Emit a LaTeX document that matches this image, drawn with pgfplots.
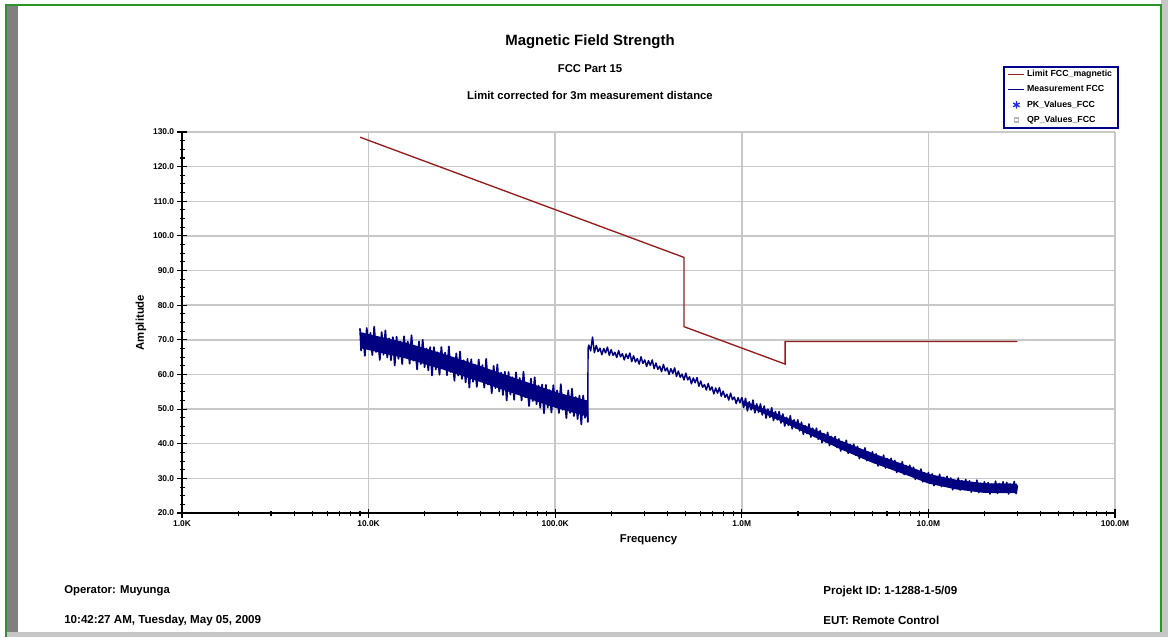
\documentclass[border=0pt]{standalone}
\usepackage{fontspec}
\setmainfont{Liberation Sans}
\usepackage{pgfplots}
\pgfplotsset{compat=1.18}
\definecolor{limred}{RGB}{150,28,28}
\definecolor{meas}{RGB}{0,0,128}
\definecolor{gridc}{RGB}{200,200,200}
\definecolor{legb}{RGB}{0,0,140}
\definecolor{pkblue}{RGB}{30,40,230}
\definecolor{frameg}{RGB}{40,150,40}
\begin{document}
\begin{tikzpicture}
\begin{scope}[x=0.75pt,y=-0.75pt]
\path[use as bounding box] (0,0) rectangle (1168,637);
\fill[white] (0,0) rectangle (1168,637);
\fill[gray!100] (6,5) rectangle (18,632);
\fill[gray!45] (6,632) rectangle (1168,637);
\fill[gray!45] (1161,0) rectangle (1168,637);
\draw[frameg,line width=1pt] (6,637) -- (6,5) -- (1161,5) -- (1161,632);
\node[font=\bfseries\fontsize{11.2}{13}\selectfont] at (590,42) {Magnetic Field Strength};
\node[font=\bfseries\fontsize{8.5}{10}\selectfont] at (590,69) {FCC Part 15};
\node[font=\bfseries\fontsize{8.5}{10}\selectfont] at (590,95) {Limit corrected for 3m measurement distance};
\node[font=\bfseries\fontsize{8.5}{10}\selectfont,anchor=west,inner sep=0pt] at (64,591) {Operator: Muyunga};
\node[font=\bfseries\fontsize{8.7}{10}\selectfont,anchor=west,inner sep=0pt] at (64,620) {10:42:27 AM, Tuesday, May 05, 2009};
\node[font=\bfseries\fontsize{8.7}{10}\selectfont,anchor=west,inner sep=0pt] at (823,591) {Projekt ID: 1-1288-1-5/09};
\node[font=\bfseries\fontsize{8.7}{10}\selectfont,anchor=west,inner sep=0pt] at (823,620) {EUT: Remote Control};
\end{scope}
\begin{axis}[
  at={(136.5pt,-384.75pt)}, anchor=south west,
  scale only axis, width=699.75pt, height=285.75pt,
  xmin=3, xmax=8, ymin=20, ymax=130,
  axis x line=bottom, axis y line=left,
  axis line style={-, black, line width=1.1pt},
  xtick={3,4,5,6,7,8},
  xticklabels={1.0K,10.0K,100.0K,1.0M,10.0M,100.0M},
  minor xtick={3.301,3.477,3.602,3.699,3.778,3.845,3.903,3.954,
               4.301,4.477,4.602,4.699,4.778,4.845,4.903,4.954,
               5.301,5.477,5.602,5.699,5.778,5.845,5.903,5.954,
               6.301,6.477,6.602,6.699,6.778,6.845,6.903,6.954,
               7.301,7.477,7.602,7.699,7.778,7.845,7.903,7.954},
  ytick={20,30,40,50,60,70,80,90,100,110,120,130},
  yticklabels={20.0,30.0,40.0,50.0,60.0,70.0,80.0,90.0,100.0,110.0,120.0,130.0},
  minor y tick num=3,
  tick align=center,
  major tick length=6.75pt, minor tick length=3.75pt,
  every tick/.style={black, line width=0.8pt},
  xmajorgrids, ymajorgrids,
  major grid style={gridc, line width=1.1pt},
  ticklabel style={font=\bfseries\fontsize{6.3}{7}\selectfont},
  xticklabel style={yshift=1pt},
  yticklabel style={xshift=1pt},
  xlabel={Frequency}, ylabel={Amplitude},
  label style={font=\bfseries\fontsize{8.5}{10}\selectfont},
  xlabel style={at={(axis description cs:0.5,-0.071)}, anchor=center},
  ylabel style={at={(axis description cs:-0.044,0.5)}, anchor=center},
  clip=false,
  legend style={at={(axis description cs:1.0043,1.173)}, anchor=north east,
    draw=legb, line width=1.3pt, font=\bfseries\fontsize{6.6}{7.5}\selectfont,
    inner xsep=3pt, inner ysep=1.2pt, row sep=2.1pt,
    nodes={inner sep=1.5pt}},
  legend cell align=left,
  legend image code/.code={\draw[mark repeat=2,mark phase=2,#1] plot coordinates {(0cm,0cm) (0.21cm,0cm) (0.42cm,0cm)};},
  legend image post style={line width=1pt},
]
\addplot[limred, line width=1pt] coordinates {
(3.954,128.5) (5.690,93.8) (5.690,73.8) (6.232,63.0) (6.232,69.5) (7.477,69.5)};
\addlegendentry{Limit FCC\_magnetic}
\addplot[meas, line width=1.3pt, line join=round] table[row sep=\\] {
x y\\
3.954 73.3\\ 3.96 66.9\\ 3.97 71.9\\ 3.98 65.4\\ 3.99 73.4\\ 4.00 67.6\\ 4.01 72.0\\ 4.02 65.6\\ 4.03 73.8\\ 4.04 66.5\\
4.05 70.3\\ 4.06 64.2\\ 4.07 72.2\\ 4.08 65.7\\ 4.09 72.7\\ 4.10 64.9\\ 4.11 70.4\\ 4.12 64.1\\ 4.13 70.8\\ 4.14 62.6\\
4.15 70.9\\ 4.16 64.5\\ 4.17 69.5\\ 4.18 63.0\\ 4.19 71.0\\ 4.20 65.2\\ 4.21 69.5\\ 4.22 63.1\\ 4.23 71.3\\ 4.24 64.0\\
4.25 67.7\\ 4.26 61.5\\ 4.27 69.5\\ 4.28 63.0\\ 4.29 70.0\\ 4.30 62.1\\ 4.31 67.5\\ 4.32 61.2\\ 4.33 67.9\\ 4.34 59.7\\
4.35 67.9\\ 4.36 61.4\\ 4.37 66.4\\ 4.38 59.9\\ 4.39 67.9\\ 4.40 62.0\\ 4.41 66.3\\ 4.42 59.8\\ 4.43 68.1\\ 4.44 60.7\\
4.45 64.4\\ 4.46 58.2\\ 4.47 66.1\\ 4.48 59.7\\ 4.49 66.6\\ 4.50 58.7\\ 4.51 64.1\\ 4.52 57.7\\ 4.53 64.5\\ 4.54 56.2\\
4.55 64.4\\ 4.56 57.9\\ 4.57 62.8\\ 4.58 56.4\\ 4.59 64.3\\ 4.60 58.4\\ 4.61 62.7\\ 4.62 56.2\\ 4.63 64.5\\ 4.64 57.1\\
4.65 60.8\\ 4.66 54.6\\ 4.67 62.5\\ 4.68 56.0\\ 4.69 62.9\\ 4.70 55.1\\ 4.71 60.5\\ 4.72 54.1\\ 4.73 60.8\\ 4.74 52.5\\
4.75 60.7\\ 4.76 54.2\\ 4.77 59.2\\ 4.78 52.7\\ 4.79 60.6\\ 4.80 54.7\\ 4.81 59.0\\ 4.82 52.5\\ 4.83 60.8\\ 4.84 53.4\\
4.85 57.1\\ 4.86 50.9\\ 4.87 58.8\\ 4.88 52.3\\ 4.89 59.2\\ 4.90 51.4\\ 4.91 56.8\\ 4.92 50.4\\ 4.93 57.1\\ 4.94 48.8\\
4.95 57.0\\ 4.96 50.5\\ 4.97 55.5\\ 4.98 49.0\\ 4.99 56.9\\ 5.00 51.0\\ 5.01 55.4\\ 5.02 48.9\\ 5.03 57.2\\ 5.04 49.8\\
5.05 53.6\\ 5.06 47.4\\ 5.07 55.4\\ 5.08 48.9\\ 5.09 55.9\\ 5.10 48.0\\ 5.11 53.5\\ 5.12 47.1\\ 5.13 53.9\\ 5.14 45.6\\
5.15 53.9\\ 5.16 47.5\\ 5.17 52.4\\ 5.175 46.2\\
};
\addlegendentry{Measurement FCC}
% solid core of the noisy band (upper edge, then lower edge back)
\addplot[fill=meas, draw=none, forget plot] coordinates {
(3.956,72.2) (4.2,69.2) (4.4,66.0) (4.6,62.4) (4.8,58.7) (5.0,55.0) (5.17,52.5)
(5.17,47.9) (5.0,50.4) (4.8,54.1) (4.6,57.8) (4.4,61.4) (4.2,64.6) (3.956,67.6)} -- cycle;
\addplot[fill=meas, draw=none, forget plot] coordinates {
(6.0,52.6) (6.17,49.1) (6.35,45.0) (6.53,40.9) (6.70,37.3) (6.88,33.8) (7.0,31.3) (7.15,29.6) (7.3,28.6) (7.475,28.5)
(7.475,25.7) (7.3,25.8) (7.15,26.8) (7.0,28.5) (6.88,31.0) (6.70,34.5) (6.53,38.4) (6.35,42.9) (6.17,47.5) (6.0,51.4)} -- cycle;
\addplot[meas, line width=1.1pt, line join=round, forget plot] table[row sep=\\] {
x y\\
5.175 46.2\\ 5.176 67.5\\
5.18 68.5\\ 5.19 66.8\\ 5.20 70.8\\ 5.21 66.3\\ 5.22 68.4\\ 5.23 66.6\\ 5.24 67.6\\ 5.25 65.7\\ 5.26 67.5\\ 5.27 66.2\\
5.28 67.9\\ 5.29 65.5\\ 5.30 67.2\\ 5.31 65.5\\ 5.32 66.4\\ 5.33 64.9\\ 5.34 66.9\\ 5.35 65.1\\ 5.36 66.0\\ 5.37 64.2\\
5.38 65.9\\ 5.39 64.6\\ 5.40 66.2\\ 5.41 63.7\\ 5.42 65.4\\ 5.43 63.6\\ 5.44 64.6\\ 5.45 63.0\\ 5.46 65.1\\ 5.47 63.2\\
5.48 64.2\\ 5.49 62.3\\ 5.50 64.0\\ 5.51 62.6\\ 5.52 64.2\\ 5.53 61.7\\ 5.54 63.3\\ 5.55 61.5\\ 5.56 62.4\\ 5.57 60.8\\
5.58 62.9\\ 5.59 61.0\\ 5.60 61.9\\ 5.61 60.0\\ 5.62 61.7\\ 5.63 60.3\\ 5.64 61.9\\ 5.65 59.4\\ 5.66 61.0\\ 5.67 59.2\\
5.68 60.1\\ 5.69 58.4\\ 5.70 60.4\\ 5.71 58.4\\ 5.72 59.3\\ 5.73 57.3\\ 5.74 59.0\\ 5.75 57.6\\ 5.76 59.1\\ 5.77 56.6\\
5.78 58.1\\ 5.79 56.3\\ 5.80 57.1\\ 5.81 55.5\\ 5.82 57.4\\ 5.83 55.5\\ 5.84 56.4\\ 5.85 54.4\\ 5.86 56.1\\ 5.87 54.6\\
5.88 56.2\\ 5.89 53.7\\ 5.90 55.2\\ 5.91 53.4\\ 5.92 54.3\\ 5.93 52.6\\ 5.94 54.6\\ 5.95 52.7\\ 5.96 53.5\\ 5.97 51.6\\
5.98 53.3\\ 5.99 51.8\\ 6.00 53.4\\
};
\addplot[meas, line width=1.2pt, line join=round, forget plot] table[row sep=\\] {
x y\\
6.00 53.4\\
6.01 50.5\\ 6.02 53.1\\ 6.03 49.5\\ 6.04 52.1\\ 6.05 49.8\\ 6.06 52.6\\ 6.07 48.9\\ 6.08 51.5\\ 6.09 49.1\\ 6.10 51.5\\
6.11 48.3\\ 6.12 50.9\\ 6.13 47.4\\ 6.14 50.0\\ 6.15 47.6\\ 6.16 50.4\\ 6.17 46.7\\ 6.18 49.3\\ 6.19 46.9\\ 6.20 49.3\\
6.21 46.0\\ 6.22 48.6\\ 6.23 45.1\\ 6.24 47.6\\ 6.25 45.3\\ 6.26 48.1\\ 6.27 44.3\\ 6.28 46.9\\ 6.29 44.5\\ 6.30 46.9\\
6.31 43.7\\ 6.32 46.2\\ 6.33 42.7\\ 6.34 45.2\\ 6.35 42.9\\ 6.36 45.7\\ 6.37 41.9\\ 6.38 44.5\\ 6.39 42.1\\ 6.40 44.5\\
6.41 41.3\\ 6.42 43.8\\ 6.43 40.3\\ 6.44 42.9\\ 6.45 40.5\\ 6.46 43.3\\ 6.47 39.5\\ 6.48 42.1\\ 6.49 39.8\\ 6.50 42.1\\
6.51 38.9\\ 6.52 41.4\\ 6.53 37.9\\ 6.54 40.5\\ 6.55 38.2\\ 6.56 41.0\\ 6.57 37.2\\ 6.58 39.8\\ 6.59 37.5\\ 6.60 39.9\\
6.61 36.7\\ 6.62 39.2\\ 6.63 35.7\\ 6.64 38.3\\ 6.65 36.0\\ 6.66 38.8\\ 6.67 35.1\\ 6.68 37.6\\ 6.69 35.3\\ 6.70 37.7\\
6.71 34.5\\ 6.72 37.1\\ 6.73 33.6\\ 6.74 36.2\\ 6.75 33.9\\ 6.76 36.7\\ 6.77 33.0\\ 6.78 35.7\\ 6.79 33.4\\ 6.80 35.8\\
6.81 32.6\\ 6.82 35.2\\ 6.83 31.7\\ 6.84 34.3\\ 6.85 32.0\\ 6.86 34.8\\ 6.87 31.1\\ 6.88 33.7\\ 6.89 31.4\\ 6.90 33.8\\
6.91 30.6\\ 6.92 33.2\\ 6.93 29.7\\ 6.94 32.3\\ 6.95 29.9\\ 6.96 32.7\\ 6.97 29.0\\ 6.98 31.6\\ 6.99 29.3\\ 7.00 31.7\\
7.01 28.6\\ 7.02 31.3\\ 7.03 27.9\\ 7.04 30.6\\ 7.05 28.3\\ 7.06 31.2\\ 7.07 27.6\\ 7.08 30.3\\ 7.09 28.1\\ 7.10 30.6\\
7.11 27.5\\ 7.12 30.1\\ 7.13 26.7\\ 7.14 29.4\\ 7.15 27.2\\ 7.16 30.1\\ 7.17 26.6\\ 7.18 29.3\\ 7.19 27.1\\ 7.20 29.7\\
7.21 26.6\\ 7.22 29.3\\ 7.23 26.0\\ 7.24 28.7\\ 7.25 26.5\\ 7.26 29.5\\ 7.27 25.9\\ 7.28 28.6\\ 7.29 26.5\\ 7.30 29.0\\
7.31 26.0\\ 7.32 28.8\\ 7.33 25.5\\ 7.34 28.3\\ 7.35 26.2\\ 7.36 29.2\\ 7.37 25.7\\ 7.38 28.5\\ 7.39 26.4\\ 7.40 29.0\\
7.41 26.0\\ 7.42 28.8\\ 7.43 25.5\\ 7.44 28.3\\ 7.45 26.2\\ 7.46 29.1\\ 7.47 25.6\\ 7.477 28.0\\
};
\addlegendimage{only marks, mark=asterisk, mark size=2.8pt, pkblue, line width=0.7pt}
\addlegendentry{PK\_Values\_FCC}
\addlegendimage{only marks, mark=square, mark size=1.5pt, gray!55, line width=0.4pt}
\addlegendentry{QP\_Values\_FCC}
\end{axis}
\end{tikzpicture}
\end{document}
